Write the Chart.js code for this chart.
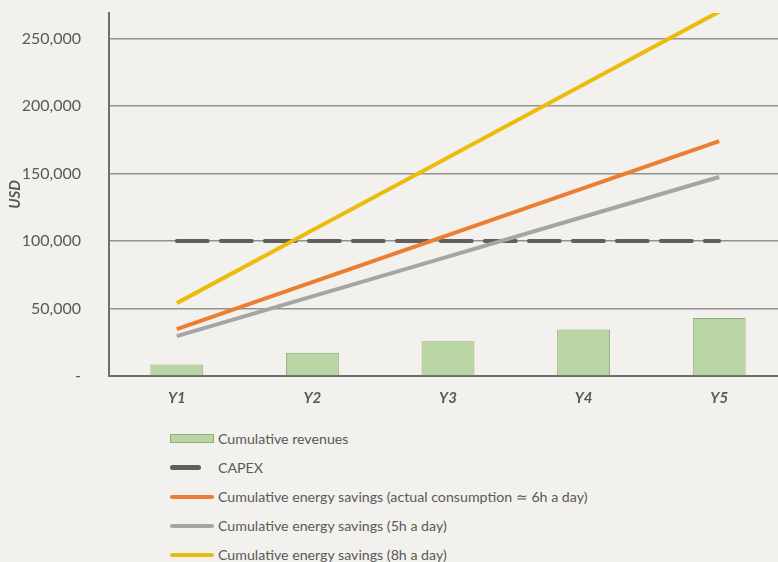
<!DOCTYPE html>
<html>
<head>
<meta charset="utf-8">
<script src="https://cdn.jsdelivr.net/npm/chart.js@4.4.1/dist/chart.umd.min.js"></script>
<style>
  html, body { margin: 0; padding: 0; background: #f2f1ed; overflow: hidden; }
  #wrap { position: relative; width: 778px; height: 562px; overflow: hidden; }
  #chart-box { position: absolute; left: 0; top: 0; width: 800px; height: 420px; }
  #legend { position: absolute; left: 170px; top: 424px; font-family: Lato, 'Open Sans', sans-serif; font-size: 14.2px; color: #595959; }
  .legend-row { height: 29px; display: flex; align-items: center; }
  .legend-swatch { width: 44px; display: flex; align-items: center; margin-right: 4px; }
</style>
</head>
<body>
<div id="wrap">
  <div id="chart-box"><canvas id="mainChart" width="800" height="420"></canvas></div>
  <div id="legend"></div>
</div>
<script>
// data
const categories = ['Y1', 'Y2', 'Y3', 'Y4', 'Y5'];
const revenues = [8600, 17200, 25800, 34400, 43000];
const capex = [100000, 100000, 100000, 100000, 100000];
const savings6h = [34800, 69600, 104400, 139200, 174000];
const savings5h = [29500, 59000, 88500, 118000, 147500];
const savings8h = [54000, 108000, 162000, 216000, 270000];
const yTicks = [0, 50000, 100000, 150000, 200000, 250000];
const yMax = 269000;

const textColor = '#595959';
const fontFamily = "Lato, 'Open Sans', sans-serif";

function lineSet(label, data, color, order) {
  return {
    type: 'line',
    label: label,
    data: data,
    borderColor: color,
    backgroundColor: color,
    borderWidth: 4,
    pointRadius: 0,
    tension: 0,
    order: order
  };
}

const datasets = [
  {
    type: 'bar',
    label: 'Cumulative revenues',
    data: revenues,
    backgroundColor: '#b9d5a3',
    borderColor: '#8fae7e',
    borderWidth: 1,
    barPercentage: 0.39,
    categoryPercentage: 1,
    order: 5
  },
  {
    type: 'line',
    label: 'CAPEX',
    data: capex,
    borderColor: '#5f5f5f',
    borderWidth: 4,
    borderDash: [31, 13],
    borderCapStyle: 'round',
    pointRadius: 0,
    order: 4
  },
  lineSet('Cumulative energy savings (actual consumption \u2243 6h a day)', savings6h, '#ed7d31', 3),
  lineSet('Cumulative energy savings (5h a day)', savings5h, '#a5a5a5', 2),
  lineSet('Cumulative energy savings (8h a day)', savings8h, '#ecbc0c', 1)
];

const chart = new Chart(document.getElementById('mainChart'), {
  data: { labels: categories, datasets: datasets },
  options: {
    responsive: false,
    animation: false,
    layout: { padding: { top: 13, right: 13, left: 0, bottom: 0 } },
    plugins: {
      legend: { display: false },
      tooltip: { enabled: false }
    },
    scales: {
      x: {
        grid: { display: false, drawTicks: false },
        border: { color: '#6e6e6e', width: 2 },
        ticks: {
          color: textColor,
          padding: 13,
          font: { family: fontFamily, size: 15, weight: 'bold', style: 'italic' }
        },
        afterFit(scale) {
          scale.height = 44;
          scale.paddingLeft = 0;
          scale.paddingRight = 0;
        }
      },
      y: {
        min: 0,
        max: yMax,
        afterBuildTicks(scale) {
          scale.ticks = yTicks.map(v => ({ value: v }));
        },
        grid: { color: '#929292', lineWidth: 1.5, drawTicks: false },
        border: { color: '#6e6e6e', width: 2 },
        ticks: {
          color: textColor,
          padding: 28,
          font: { family: fontFamily, size: 16 },
          callback: v => v === 0 ? '-' : v.toLocaleString('en-US')
        },
        title: {
          display: true,
          text: 'USD',
          color: textColor,
          padding: { top: 6, bottom: 0 },
          font: { family: fontFamily, size: 15, weight: 'bold', style: 'italic' }
        },
        afterFit(scale) {
          scale.width = 109;
          scale.paddingTop = 0;
          scale.paddingBottom = 0;
        }
      }
    }
  }
});

// build the vertical legend under the chart
const legend = document.getElementById('legend');
chart.data.datasets.forEach(ds => {
  const row = document.createElement('div');
  row.className = 'legend-row';
  const sw = document.createElement('div');
  sw.className = 'legend-swatch';
  const mark = document.createElement('div');
  if (ds.type === 'bar') {
    mark.style.cssText = `width:42px;height:7px;background:${ds.backgroundColor};border:1px solid ${ds.borderColor};`;
  } else if (ds.borderDash) {
    mark.style.cssText = `width:31px;height:5px;border-radius:3px;background:${ds.borderColor};`;
  } else {
    mark.style.cssText = `width:44px;height:4px;border-radius:2px;background:${ds.borderColor};`;
  }
  sw.appendChild(mark);
  row.appendChild(sw);
  const txt = document.createElement('span');
  txt.textContent = ds.label;
  row.appendChild(txt);
  legend.appendChild(row);
});
</script>
</body>
</html>
